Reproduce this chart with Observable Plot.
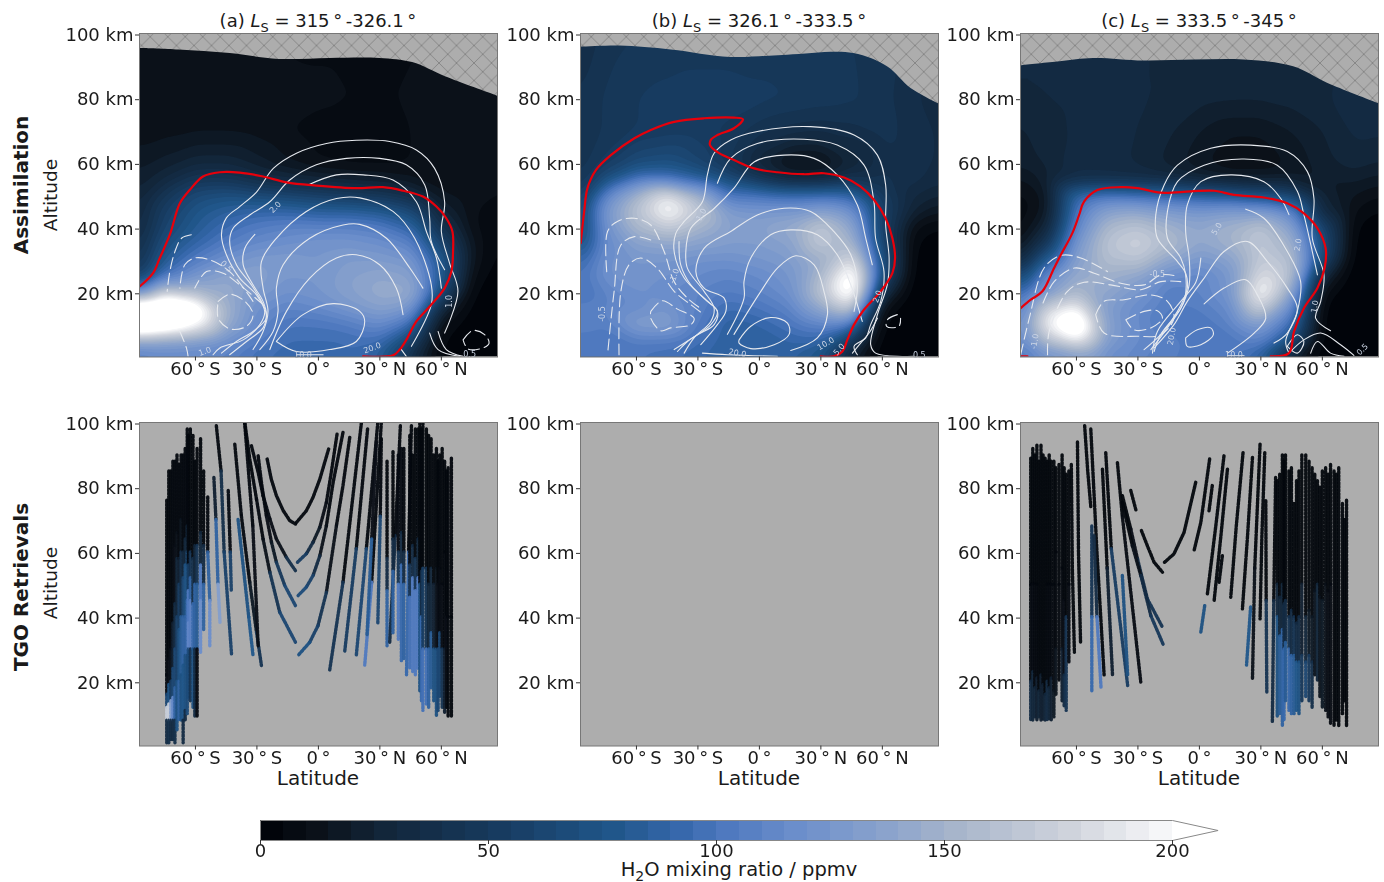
<!DOCTYPE html>
<html><head><meta charset="utf-8">
<script src="https://cdn.jsdelivr.net/npm/d3@7"></script>
<script src="https://cdn.jsdelivr.net/npm/@observablehq/plot@0.6"></script>
<style>
html,body{margin:0;padding:0;background:#fff;width:1384px;height:882px;overflow:hidden;font-family:"DejaVu Sans",sans-serif;color:#1a1a1a}
#stage{position:relative;width:1384px;height:882px}
#stage>div.p{position:absolute;filter:blur(0.35px)}
.t{position:absolute;white-space:nowrap;transform:translate(-50%,-50%);line-height:1}
.r{position:absolute;white-space:nowrap;transform:translate(-50%,-50%) rotate(-90deg);line-height:1}
sub{font-size:72%;line-height:0}
</style></head><body>
<svg width="0" height="0" style="position:absolute"><defs>
<pattern id="hatch" patternUnits="userSpaceOnUse" width="17.5" height="17.5">
<rect width="17.5" height="17.5" fill="#adadad"/>
<path d="M0,0L17.5,17.5M0,17.5L17.5,0" stroke="#828282" stroke-width="0.9"/>
</pattern></defs></svg>
<div id="stage"></div>
<script>
const colorStops=[0,10,25,50,75,90,100,115,135,150,175,200];
const colorHex=["#01040a","#0b1119","#12263a","#173b60","#20568a","#3768ac","#4f79bf","#6b8ecb","#8ba3cc","#a7b5cb","#cfd3dc","#ffffff"];
const levels=d3.range(0,205,5);
const latTicks=[-60,-30,0,30,60];
const altTicks=[20,40,60,80,100];
const latGrid=[-87.5,-75,-60,-45,-30,-15,0,15,30,45,60,75,87.5];
const altGrid=[100,80,70,60,55,50,45,40,35,30,25,20,15,10,5,0];
const h2oA=[
[10,10,10,10,10,9,9,9,9,10,10,10,10],
[12,12,12,12,12,12,11,10,10,10,12,12,12],
[12,13,14,14,13,10,8,8,8,10,12,12,12],
[18,22,28,28,22,15,10,8,8,10,12,12,12],
[22,30,45,45,35,30,25,22,20,15,12,12,10],
[25,45,65,70,65,60,55,50,45,35,15,12,10],
[28,55,75,85,90,90,85,85,80,65,25,10,8],
[30,60,80,95,105,110,110,110,105,90,40,10,5],
[35,70,90,105,115,120,125,125,120,110,60,15,3],
[40,80,105,120,130,130,125,130,130,125,80,15,3],
[50,100,125,140,135,125,125,135,140,135,80,10,2],
[110,175,155,145,130,120,125,135,145,145,70,5,2],
[250,260,230,150,120,110,115,125,135,125,30,3,2],
[260,240,205,145,115,100,100,105,115,95,10,2,1],
[140,135,130,120,105,95,95,95,95,60,5,1,1],
[100,110,110,105,95,90,90,95,80,35,3,1,1]];
const h2oB=[
[35,42,45,45,45,45,45,45,45,45,42,38,32],
[40,46,50,52,54,54,52,50,48,46,42,36,32],
[40,46,50,52,52,48,42,38,36,38,42,38,34],
[42,52,66,70,60,45,25,10,10,25,38,38,34],
[44,70,100,100,85,65,45,28,28,40,42,38,32],
[50,110,150,190,150,100,100,95,95,90,50,30,25],
[60,125,165,205,170,130,125,125,135,120,55,25,15],
[60,120,155,170,150,135,135,145,170,140,55,10,4],
[70,115,135,140,135,130,130,135,170,155,60,5,2],
[90,120,125,125,120,120,125,130,145,185,70,3,1],
[100,120,125,120,115,110,115,125,155,220,70,2,1],
[95,110,120,115,110,105,110,120,165,220,40,1,1],
[110,110,115,125,110,95,100,110,140,170,10,1,1],
[110,105,135,135,105,85,90,100,110,100,4,1,1],
[100,100,105,105,95,85,85,90,90,50,2,1,1],
[105,105,100,95,90,85,85,85,70,20,1,1,1]];
const h2oC=[
[30,30,30,30,30,30,30,30,30,30,30,30,30],
[30,30,31,31,30,30,27,26,26,27,29,33,31],
[24,28,31,32,30,26,20,16,16,20,25,31,31],
[22,26,34,32,29,23,16,10,10,16,23,28,25],
[14,23,35,36,35,32,25,20,20,20,20,22,18],
[8,15,90,100,95,90,85,80,70,60,25,15,10],
[6,15,100,135,140,130,125,130,130,110,30,10,4],
[6,25,110,155,165,150,140,150,165,135,60,5,2],
[10,45,125,165,178,160,140,150,170,150,70,3,1],
[25,80,135,160,165,140,125,135,170,160,65,2,1],
[60,115,145,150,140,115,110,125,185,160,30,1,1],
[90,125,155,140,125,105,110,125,205,140,10,1,1],
[100,175,200,130,115,105,105,115,175,115,3,1,1],
[115,195,240,135,115,100,100,110,130,95,2,1,1],
[115,160,195,130,115,110,100,100,110,70,2,1,1],
[100,115,120,115,110,105,100,100,80,20,2,1,1]];
const topA=[[-88,95.4],[-68,94.9],[-43,93.8],[-19,92],[5.5,92.3],[30,92.3],[46,91],[62,86.6],[88,80.5]];
const topB=[[-88,95.7],[-68,96.1],[-43,94.9],[-14,92.6],[13.7,93.3],[46,93.8],[62.5,89.7],[74,83],[88,78.1]];
const topC=[[-88,90],[-68,91.3],[-51.7,92.3],[-27,91.5],[-2.6,91.8],[21.8,91.8],[46,89.7],[62.5,84.6],[88,78.2]];
const redA=[[[-87.2,21.8],[-80.7,25.9],[-77.4,30.6],[-72.5,37.8],[-67.6,47.5],[-62.8,51.6],[-56.3,55.8],[-48.1,57.1],[-38.4,57],[-27,55.8],[-15.6,54],[-1,53],[18.5,52.2],[31.5,52.5],[41.3,51.4],[51,49.6],[57.6,46.5],[62.4,42.9],[65.4,38.8],[65.7,32.6],[64.9,26.4],[61.6,21.3],[54.3,15.6],[47.8,11],[42.9,5.3],[39.7,2.3],[36.4,.5],[21.8,.2]]];
const redB=[[[-87.2,35.2],[-85.5,45],[-83.9,52.2],[-79.8,57.8],[-72.5,62.4],[-61,67.6],[-53,70.2],[-41.6,72.7],[-27,73.8],[-12.4,74],[-8,73.5],[-12.4,70.7],[-20.5,68.6],[-23.7,67.1],[-24.1,65.5],[-19.7,63],[-12.4,60.9],[-2.6,58.3],[8.8,57.1],[21.8,56.5],[31.5,56.8],[41.3,55.5],[49.4,52.7],[55.9,48.6],[61.6,42.9],[64.9,36.7],[66.2,30.6],[64.9,25.9],[59.2,20.3],[51,14.6],[46.2,10],[42.9,5.3],[40.5,1.7],[36.4,.2],[29.9,.2]]];
const redC=[[[-87.2,15.1],[-82.3,17.7],[-76.6,20.3],[-70.9,27.5],[-67.6,31.6],[-62,38.3],[-58.7,43.9],[-56.3,48],[-49.8,51.6],[-38.4,52.5],[-30.2,52.2],[-18.9,50.8],[-4.2,51.2],[7.2,51.4],[16.9,50.1],[31.5,49.3],[42.9,47.5],[51,44.4],[57.6,39.8],[61.6,33.6],[61.1,27.5],[57.6,21.3],[51,15.1],[46.2,7.9],[43.7,1.2],[34.8,.2]],[[-87.2,.2],[-83.9,.2]]];
const whiteA=[
[[61.6,7.4],[68.1,20.3],[64,29],[60,38.8],[61.6,48],[56.7,58.3],[47.8,64],[34.8,66.6],[18.5,67],[3.9,66],[-10.7,63],[-22,58.3],[-30.2,51],[-38.4,46.5],[-44.9,43],[-47.3,37.8],[-44.9,31.6],[-38.4,24.4],[-30.2,19.2],[-26.2,14],[-28.6,10],[-36.7,5.3],[-48.1,2.8],[-51.4,.7]],
[[61.6,27],[55.1,35.7],[54.3,42.9],[51.9,53.2],[42.9,59.4],[29.9,61.4],[13.7,61.4],[-1,59.4],[-14,54.7],[-23.7,48],[-33.5,43.9],[-41.6,39.8],[-43.3,35.7],[-40,28.5],[-32.7,22.3],[-27,16.2],[-25.4,12],[-31.9,7.9],[-40,4.8],[-47.3,1.2]],
[[-5,53.2],[8.8,56.3],[21.8,56.3],[36.4,54.7],[47.8,48],[52.7,38.8],[57.6,30.6],[60,21.3]],
[[-31,37.9],[-35.9,33.6],[-36.7,28.5],[-31.9,22.3],[-27,17.2],[-25.4,13.1],[-27,9],[-35.1,4.8],[-43.3,.7]],
[[45.4,3.3],[55.1,16.2],[55.1,22.3],[47,36.7],[36.4,45],[20.2,49.2],[8.8,49],[-5.9,45],[-20.5,36.7],[-27.8,29.5],[-27,21.3],[-24.6,14.1],[-27,7.9],[-31.9,2.3]],
[[51,21.3],[44.6,27.5],[33.2,36.7],[20.2,41],[12,40.8],[-4.2,36.7],[-17.2,28.5],[-20.5,21.3],[-19.7,14.1],[-22.1,7.9],[-28.6,2.3]],
[[41.3,13.1],[38,21.3],[29.9,28.5],[18.5,31.6],[8.8,30.6],[-4.2,24.4],[-15.6,14.1],[-23.7,2.3]],
[[-20.5,4.8],[-7.5,13.1],[7.2,16.5],[20.2,14.1],[22.6,11],[18.5,4.8],[5.5,2.3],[-10.7,1.7],[-20.5,4.8]],
[[70.6,.2],[62.4,2.3],[58.4,7.9]],
[[40.5,2.3],[42.9,.2]],
[[54.3,7.4],[58.4,2.3],[68.9,.2]],
[[-10.7,.7],[2.3,.7]]];
const dashA=[
[[-62,37.8],[-66.8,36.7],[-70,32.6],[-72.5,26.4],[-73.8,20.3]],
[[-67.6,7.9],[-64.4,2.8],[-63.6,.2]],
[[-31.9,17.2],[-43.3,26.4],[-53,30],[-60.3,30.6],[-65.2,28.5],[-67.6,21.3]],
[[-27,16.2],[-38.4,22.3],[-46.5,25.9],[-54.6,26.4],[-60.3,21.3]],
[[-48.9,17.2],[-43.3,19.4],[-35.9,17.2],[-31.9,13.1],[-35.1,9.5],[-43.3,8.7],[-48.9,12],[-48.9,17.2]],
[[70.6,5.3],[75.4,8.2],[81.1,6.9],[83.3,4.3],[80.3,2.8],[73,2.5],[70.6,5.3]]];
const labelA=[[-21,46.3,"2.0",-45],[-44.9,28,"0.5",45],[64,17.2,"1.0",-90],[26.3,2.8,"20.0",-20],[-7.5,.6,"10.0",0],[-55.4,1.7,"1.0",-20],[73.8,.7,"0.5",0]];
const whiteB=[
[[-41.6,2.3],[-30.2,6.9],[-22.1,10],[-20.5,14.1],[-27,18.2],[-36.7,24.4],[-41.6,32.6],[-40.8,38.2],[-36.7,41.9],[-27.8,48],[-25.4,56.3],[-22.1,63],[-14,67.1],[-1,69.7],[25,71.2],[46.2,68.6],[57.6,62.4],[61.6,53.2],[61.6,40.8],[63.3,30.6],[62.4,22.3],[57.6,13.1],[54.3,3.8],[56.7,1.2],[75.4,.2]],
[[-20.5,53.7],[-14,61.4],[-1,66],[21.8,67.3],[38,65.5],[51,59.4],[55.9,48],[56.7,36.7],[60.8,26.4],[59.2,17.2],[54.3,10],[51.9,5.9],[46.2,3.3],[47.8,.7]],
[[-39.2,35.7],[-38.4,28.5],[-33.5,22.3],[-25.4,17.2],[-20.5,14.1],[-23.7,10],[-35.1,4.8],[-40,1.7]],
[[-36.7,1.2],[-31.9,5.9],[-23.7,11],[-22.1,15.1],[-27,20.3],[-35.1,27.4],[-35.9,32.6],[-33.5,39.8],[-22.1,45.9],[-12.4,52.2],[-2.6,60.3],[12,62.4],[26.7,61.4],[38,56.3],[47.8,47],[51.9,36.7],[55.1,28.5]],
[[-28.6,3.8],[-20.5,10],[-16.4,14.1],[-17.2,18.2],[-27,21.3],[-31,26.4],[-27,33.6],[-14,38.8],[-1,43.9],[12,46],[25,45],[36.3,38.8],[44.6,31.6],[47.8,22.3],[46.2,14.1]],
[[-15.6,7],[-7.5,18.2],[-7.5,23.4],[-4.2,30.6],[5.5,37.8],[15.3,39.3],[28.3,37.8],[38,31.6],[44.6,22.3],[50.2,11]],
[[-12.4,7],[.7,20.3],[8.8,27.5],[17.7,31.3],[26.7,28.5],[31.5,20.3],[33.2,13.1],[28.3,5.9],[15.3,2]],
[[-9.9,5.3],[-4.2,9.5],[5.5,12.2],[13.7,10.5],[14.5,7],[7.2,3.8],[-4.2,2.6],[-9.9,4.3],[-9.9,5.3]],
[[-27.8,1.2],[-15.6,.7],[8.8,.2]],
[[45.4,1.2],[49.4,4.3],[53.5,7.4],[57.6,12]]];
const dashB=[
[[-74.5,26.4],[-74.1,38.8],[-69.3,41.9],[-61,42.9],[-53,40.8],[-46.5,32.6],[-41.6,23.3],[-35.1,18.2],[-27.8,14.6]],
[[-53,36.2],[-61,37.2],[-67.6,34.6],[-70.9,20.3],[-74.1,.7]],
[[-68.5,.7],[-67.6,20.3],[-63.6,28.5],[-57.9,30.6],[-49.8,27.4],[-41.6,20.3],[-33.5,16.2],[-27,13.1]],
[[-53,14.1],[-47.3,17.4],[-40,14.8],[-31.9,12],[-33.5,10],[-43.3,9],[-48.1,8.1],[-53,12],[-53,14.1]],
[[67.3,13.1],[62.4,11.5],[62.1,9.5],[68.1,9.5],[68.9,12]]];
const labelB=[[-28.3,44,"1.0",-60],[-76.6,13.3,"-0.5",-90],[-41.6,25,"-1.0",-70],[32.4,4.1,"10.0",-30],[-10.7,1.2,"20.0",10],[38.9,2.3,"5.0",-50],[57.6,18.7,"2.0",-70],[78,.6,"0.5",0]];
const whiteC=[
[[-27,2.3],[-18.9,6.9],[-10.7,14.1],[-5.9,21.3],[-6.7,25.9],[-10.7,29.5],[-20.5,36.7],[-21.3,43.9],[-17.2,53.2],[-10.7,59.3],[5.5,64.5],[25,65.5],[42.9,63.5],[52.7,57.3],[55.9,49],[55.1,36.7],[60.8,25.4],[59.2,17.2],[56.7,12],[64,8.1]],
[[-23.7,2.3],[-15.6,9],[-7.5,17.2],[-6.7,25.4],[-9.1,30.6],[-15.6,36.7],[-15.6,45],[-10.7,54.2],[2.3,59.3],[21.8,61.2],[38,59.3],[47.8,51.2],[51,43.9],[55.1,32.6],[57.6,25.4]],
[[-22.1,1.7],[-18.9,6.9],[-9.1,15.1],[-5,22.3],[-5,30.6],[-6.7,38.7],[-5.9,47],[.7,54.2],[15.3,56.3],[31.5,54.2],[39.7,49],[43.7,44]],
[[22.6,45.7],[31.5,42.9],[42.9,32.6],[49.4,23.3],[47.8,14.1],[42.1,4.8],[43.7,1.2]],
[[.7,30.6],[-1.8,23],[-9.1,17.2],[-20.5,7.9],[-22.9,1.2]],
[[-22.1,2.8],[-12.4,10],[-5.9,17.2],[2.3,24.4],[12,32.6],[23.4,35.7],[33.2,29.5],[42.9,21.3],[47.8,15.1],[42.9,7.4],[36.4,4.3]],
[[2.3,16.4],[12,21.3],[22.6,23.9],[28.3,19.2],[32.4,12],[26.7,7.4],[13.7,1.2]],
[[-6.7,5.9],[-1,8.4],[5.5,9],[6.8,6.9],[.7,3.8],[-5.9,3.3],[-6.7,5.9]],
[[42.9,3.3],[47.8,6.9],[51,4.8],[47.8,1.2],[42.9,3.3]],
[[43.7,1.2],[51,5.3],[59.2,7.4],[68.9,3.8],[75.4,.5]],
[[54.3,1.2],[57.6,4.8],[64,1.2],[70.6,.2]],
[[13.7,.4],[21.8,.4]]];
const dashC=[
[[-87.2,.7],[-83,12],[-75.8,27.5],[-67.6,31.4],[-57.9,30.6],[-44.9,26.4]],
[[-76.3,16.7],[-70.9,23.3],[-61,27.5],[-51.4,25.9],[-38.4,22.8],[-27,22.3],[-18.9,25.4],[-12.4,25.2]],
[[-74.1,.7],[-73.3,7.9],[-64.4,20.3],[-56.3,23.1],[-43.3,22.3],[-28.6,20.8],[-18.9,23.3],[-9.1,23.3]],
[[-50.6,13.1],[-46.5,17.2],[-36.7,17.7],[-23.7,19.2],[-15.6,17.2],[-12.4,12],[-18.9,6.9],[-30.2,6.4],[-46.5,7.4],[-50.6,13.1]],
[[-35.9,11.5],[-27,14.1],[-20.5,14.3],[-18,12],[-23.7,9],[-31.9,8.4],[-35.9,11.5]]];
const labelC=[[8.5,39.6,"5.0",-60],[48.1,34.7,"2.0",-80],[-20.5,25.6,"-0.5",0],[56.3,15.6,"1.0",-80],[79.5,2.3,"0.5",-45],[-80.3,4.8,"-1.0",-80],[-13.5,6.4,"20.0",-80],[16.9,.6,"10.0",0]];
// retrieval tracks: [latitudes],[altitudes],[H2O]; a segment takes the value of its upper end
const tracksA=[
[[-74],[76,22,16,12,8,1],[2,5,60,170,30,30]],
[[-73],[85,27,19,13,8,1],[2,8,70,170,35,35]],
[[-72],[85,30,20,14,8,2],[2,10,50,130,30,30]],
[[-71],[88,38,24,15,8,2],[3,20,60,110,30,30]],
[[-70],[88,62,44,30,18,8,1],[3,8,30,60,85,35,35]],
[[-69],[90,66,58,40,20,5],[3,10,25,55,70,40]],
[[-68],[87,58,50,36,20,8],[3,20,50,70,85,45]],
[[-67],[90,70,60,40,22,8],[3,12,35,80,70,30]],
[[-66],[90,60,52,40,25,8,1],[3,25,60,85,75,30,30]],
[[-65],[92,64,56,40,28,11,8],[3,25,70,85,70,30,10]],
[[-64],[98,68,60,45,28,10],[3,25,70,90,65,5]],
[[-63.5],[96,56,48,38,30,15],[3,50,100,110,65,20]],
[[-62.5],[98,60,52,45,30,14],[2,40,85,105,40,5]],
[[-61.2],[96,58,44,30,12],[2,35,90,70,5]],
[[-60.3],[88,62,50,30,9],[2,25,85,30,2]],
[[-59.2],[92,62,50,30,9],[2,40,80,5,2]],
[[-57.5],[95,66,56,45,29],[2,25,100,115,5]],
[[-56],[85,62,50,36],[2,30,85,85]],
[[-54,-54,-53,-53],[77,60,45,31],[3,85,115,115]],
[[-51,-50,-49,-48],[83,70,50,38],[20,85,130,85]],
[[-49.8,-47.5,-46,-42.4],[99,85,60,28.5],[3,35,55,70]],
[[-44,-43,-42.5],[79,60,48],[5,55,165]],
[[-40.8,-37.6,-33.5,-30.2,-27.8],[93.3,71.2,50.6,35.2,24.9],[3,4,15,40,60]],
[[-39.2,-34,-31.9],[70,40,28],[70,75,150]],
[[-36,-32,-29.4],[100,68,31],[3,8,90]],
[[-25,-23,-20.5,-17.2,-14,-11.2],[88.7,82.5,77.4,72.8,69.7,68.6],[3,3,3,3,3,3]],
[[-10.7,-5.9,-2.6,.7,3.1,5],[69.1,72.7,76.9,82.5,87.7,91.8],[3,3,3,3,3,3]],
[[-32.7,-29.4,-27,-23.7,-20.5,-15.6,-11.2],[92.8,84.6,77.4,70.2,64,58.3,54.2],[3,3,5,8,10,35,60]],
[[-10.2,-5.9,-2.6,.7,3.9,6.3,9.1],[56.8,59.4,63,67.6,75.3,84.6,96.4],[60,50,30,15,8,3,3]],
[[-29.4,-27.8,-25.4,-22.9,-20.5,-16.4,-11.2],[89.7,81.5,71.2,63,56.8,49.6,43.4],[3,3,8,15,45,60,70]],
[[-9.9,-5.9,-2.6,.7,3.9,7.2,12],[46.5,49.1,52.7,58.8,68.1,81.5,96.9],[75,65,55,30,10,3,3]],
[[-35.9,-33.5,-30.2,-27,-23.7,-18.9,-11.2],[100,88.7,76.3,64,53.7,41.4,32.1],[2,2,4,10,40,60,70]],
[[-9.9,-4.2,-.2,3.9,8.8,12,15.3],[28,32.1,37.2,47.5,68.1,80.5,95.4],[90,70,55,40,10,3,3]],
[[5.5,12,21],[23.4,50.6,100],[10,40,3]],
[[12.8,18.5,24],[29,61,98],[130,50,3]],
[[18.5,23.4,29],[28,61,100],[140,60,3]],
[[22.6,26,30.7],[25,50.6,100],[5,100,3]],
[[23.7,26,28.3],[34,64,94],[50,80,8]],
[[29,30.2,30.7],[38,71,95],[130,60,3]],
[[33.5],[88,58,48,31],[2,30,85,85]],
[[34.8,37.5,40],[32,65,99],[10,30,3]],
[[36.4],[91,64,54,35],[2,30,85,95]],
[[39],[90,60,50,33],[5,40,100,120]],
[[40.5],[92,66,56,26],[5,30,90,50]],
[[41.7],[92,60,50,27],[3,30,85,30]],
[[43,44,45.4],[22,60,99],[10,90,3]],
[[44.6],[96,56,46,24],[3,40,95,20]],
[[46],[90,62,52,23],[2,30,100,75]],
[[47.3],[98,58,48,22],[2,40,100,40]],
[[48.6],[98,64,52,24],[3,25,100,110]],
[[49.5],[100,50,17],[2,70,3]],
[[50.3],[98,54,40,14],[2,30,90,5]],
[[51],[100,55,30,11],[2,50,95,5]],
[[52.7],[98,55,30,13],[2,40,95,5]],
[[53.8],[96,50,30,12],[2,25,85,5]],
[[55],[95,55,35,18],[2,25,80,5]],
[[56.3],[90,50,30,14],[2,20,70,5]],
[[57.6],[92,55,30,9.5],[2,12,70,10]],
[[58.4],[88,50,30,11],[2,8,60,5]],
[[59.2],[90,55,35,15],[2,5,60,10]],
[[60.4],[92,50,30,12],[2,5,40,5]],
[[61.6],[88,60,30,10],[2,3,20,5]],
[[62.5],[85,40,12],[2,8,3]],
[[63.3],[86,40,9],[2,3,2]],
[[64.9],[89,40,9],[1,2,1]]];
const tracksC=[
[[-82.3],[89,50,20,8],[2,3,30,40]],
[[-81.3],[92,50,23,8],[2,5,25,20]],
[[-80.3],[90,50,18,9],[2,3,25,35]],
[[-79.3],[93,50,21,8],[2,3,20,30]],
[[-78.3],[88,50,17,9],[2,2,25,25]],
[[-77.3],[93,50,22,8],[2,2,20,30]],
[[-76.3],[90,50,19,8],[2,2,20,30]],
[[-75.3],[89,50,16,8],[2,2,25,25]],
[[-74.3],[88,50,20,8],[2,3,30,30]],
[[-73.3],[90,50,18,8],[2,3,25,20]],
[[-72.3],[88,50,21,8],[2,3,20,20]],
[[-71],[88,50,17,9],[2,4,15,5]],
[[-70],[86,60,30,16],[2,3,12,20]],
[[-68.5],[87,50,20],[2,3,30]],
[[-67],[90,55,30,14],[2,4,20,30]],
[[-66],[86,45,22,12],[2,8,30,40]],
[[-65],[84,40,11],[2,40,60]],
[[-63.7],[85,50,26],[2,5,3]],
[[-62.5,-62,-61],[87,55,29],[2,2,2]],
[[-59.5,-59,-58],[94,60,32],[2,2,2]],
[[-56,-54.5,-53],[99,85,74],[2,2,2]],
[[-53,-50,-46.5],[98,60,22],[2,2,5]],
[[-52.5],[68,40,17],[40,90,60]],
[[-51.4,-50,-48],[65,40,18],[30,100,55]],
[[-47.3,-45,-42.4],[85.6,55,22],[2,20,10]],
[[-45.7,-43,-35],[90.7,61,18.7],[2,50,80]],
[[-40,-37.6,-28.6],[87.6,71,19.8],[2,5,50]],
[[-33.5,-31],[79,73],[2,2]],
[[-28.3,-25.4,-22.1,-18],[66.6,61.9,56.8,53.7],[2,2,2,2]],
[[-37.6,-33.5,-30.2,-25.4,-18],[77.4,67.1,57.8,45.5,36.7],[2,8,30,40,5]],
[[-37.6,-32.7,-28.6,-23.7,-17.6],[75.3,61.9,52.7,40.3,31.3],[2,10,30,45,40]],
[[-37.6,-35],[52.7,21.8],[70,100]],
[[-17,-12.4,-7.5,-1.8],[56.8,59.4,66,81.5],[2,2,2,2]],
[[-2.6,.7,5],[60.4,69.1,88.7],[2,2,2]],
[[.7,2.6],[35.2,43.4],[70,70]],
[[4.7,6.3],[72.7,80.5],[2,2]],
[[3.9,8,12],[47,68,89.7],[2,2,2]],
[[7.2,10.5,13.7],[45,65,85.6],[2,2,2]],
[[9.6,11.2],[50.6,58.8],[2,2]],
[[15.3,18,21.3],[46,68,90.7],[60,2,2]],
[[21,23.5,25.9],[42.4,65,89.2],[30,2,2]],
[[23,25],[25,43],[60,75]],
[[25.9,27,29.6],[20.8,55,93.3],[60,10,2]],
[[29.6,30.5,31.9],[39.3,65,90.7],[5,2,2]],
[[32.9,32.6,32.4],[16.7,45,75.8],[110,40,2]],
[[35.6,36.3,37.2],[7.4,45,83],[80,30,2]],
[[38],[82,50,40,9],[2,25,70,50]],
[[39.2],[84,46,34,10],[2,25,80,40]],
[[40.5],[90,50,36,6],[2,25,85,20]],
[[41.3],[88,44,30,8],[2,30,90,40]],
[[42],[90,45,32,14],[2,30,80,130]],
[[43.7],[85,40,30,11],[2,40,90,110]],
[[44.9],[86,42,28,10],[2,30,85,90]],
[[46.2],[75,40,28,10],[2,40,80,120]],
[[47.4],[82,38,26,11],[2,30,75,60]],
[[48.6],[85,40,26,10],[2,30,70,30]],
[[50],[90,50,28,14],[2,20,45,5]],
[[51.9],[90,40,26,15],[2,25,60,5]],
[[53.5],[88,42,28,14],[2,15,45,3]],
[[55],[86,40,26,12],[2,15,35,3]],
[[56.3],[84,48,22],[2,12,3]],
[[57.6],[82,50,20],[2,25,3]],
[[58.8],[80,46,15],[2,12,2]],
[[60],[85,45,12],[2,15,2]],
[[61.6],[86,50,11],[2,10,2]],
[[62.8],[84,48,9],[2,6,2]],
[[64],[87,50,7],[2,5,2]],
[[65.7],[85,50,6],[2,2,2]],
[[66.8],[84,50,8],[2,2,2]],
[[68],[86,50,6],[2,2,2]],
[[69.8],[75,50,10],[2,2,2]],
[[70.8],[70,40,14],[2,2,2]],
[[71.8],[76,40,6],[2,2,2]]];
const titles=[["(a)","315","326.1"],["(b)","326.1","333.5"],["(c)","333.5","345"]];
const panelLeft=[139,580,1020];
const colorScale={type:"linear",domain:colorStops,range:colorHex,clamp:true};
const stage=document.getElementById("stage");
const latFmt=d=>d===0?"0\u2009°":Math.abs(d)+"\u2009°\u2009"+(d<0?"S":"N");
function axes(){return [
 Plot.axisX(latTicks,{tickFormat:latFmt,fontSize:18,tickSize:4,tickPadding:1,label:null,stroke:"#333",fill:"#1a1a1a"}),
 Plot.axisY(altTicks,{tickFormat:d=>d+" km",fontSize:18,tickSize:4,tickPadding:2,label:null,stroke:"#333",fill:"#1a1a1a",dy:1.5})];}
function panel(left,top,marks){
 const h=5+323.5+40;
 const node=Plot.plot({width:85+358+5,height:h,marginLeft:85,marginRight:5,marginTop:5,marginBottom:40,
  x:{domain:[-87.3,87.4]},y:{domain:[0,100]},color:colorScale,
  style:{background:"transparent",fontFamily:"DejaVu Sans",overflow:"visible"},marks});
 const d=document.createElement("div");d.className="p";d.style.left=(left-85)+"px";d.style.top=(top-5)+"px";d.appendChild(node);stage.appendChild(d);
}
function lineMarks(set,opt){return set.map(pts=>Plot.line(pts,{x:d=>d[0],y:d=>d[1],curve:"catmull-rom",clip:true,...opt}));}
function assim(left,grid,top,white,dash,red,labels){
 const rows=altGrid.flatMap((a,i)=>latGrid.map((l,j)=>({lat:l,alt:a,v:grid[i][j]})));
 panel(left,33,[
  Plot.contour(rows,{x:"lat",y:"alt",fill:"v",interpolate:"barycentric",pixelSize:2,blur:3,thresholds:levels,stroke:"none",clip:true}),
  Plot.areaY(top,{x:d=>d[0],y1:d=>d[1],y2:()=>100,fill:"url(#hatch)",curve:"catmull-rom",clip:true}),
  ...lineMarks(white,{stroke:"#e6e9ee",strokeWidth:1.1}),
  ...lineMarks(dash,{stroke:"#e6e9ee",strokeWidth:1.1,strokeDasharray:"11 5"}),
  ...lineMarks(red,{stroke:"#e8000b",strokeWidth:2.2}),
  Plot.text(labels,{x:d=>d[0],y:d=>d[1],text:d=>d[2],rotate:d=>d[3],fontSize:8,fill:"#cdd6e6"}),
  Plot.frame({stroke:"#777",strokeWidth:1}),
  ...axes()]);
}
function retrieval(left,tracks){
 const rows=tracks.flatMap((t,i)=>d3.sort(t[1].map((a,j)=>({id:i,lat:t[0][j]??t[0][0],alt:a,v:t[2][j]})),d=>-d.alt));
 panel(left,422,[
  Plot.frame({fill:"#adadad",stroke:"none"}),
  Plot.line(rows,{x:"lat",y:"alt",z:"id",stroke:"v",strokeWidth:3.4,strokeDasharray:"2.2 1.4",strokeOpacity:0.95,clip:true}),
  Plot.frame({stroke:"#777",strokeWidth:1}),
  ...axes()]);
}
assim(139,h2oA,topA,whiteA,dashA,redA,labelA);
assim(580,h2oB,topB,whiteB,dashB,redB,labelB);
assim(1020,h2oC,topC,whiteC,dashC,redC,labelC);
retrieval(139,tracksA);
retrieval(580,[]);
retrieval(1020,tracksC);
// colour bar
const barNode=Plot.plot({width:1000,height:55,marginLeft:20,marginRight:22.4,marginTop:5,marginBottom:30,
 x:{domain:[0,210]},y:{domain:[0,1],axis:null},color:colorScale,
 style:{background:"transparent",fontFamily:"DejaVu Sans",overflow:"visible"},
 marks:[
  Plot.rect(levels.slice(0,40),{x1:d=>d,x2:d=>d+5,y1:()=>0,y2:()=>1,fill:d=>d,shapeRendering:"crispEdges"}),
  Plot.line([[0,0],[200,0],[210,.5],[200,1],[0,1],[0,0]],{x:d=>d[0],y:d=>d[1],stroke:"#888",strokeWidth:1}),
  Plot.axisX([0,50,100,150,200],{fontSize:18,tickSize:4,tickPadding:0,label:null,stroke:"#333",fill:"#1a1a1a"})
 ]});
const bd=document.createElement("div");bd.className="p";bd.style.left="240px";bd.style.top="815px";bd.appendChild(barNode);stage.appendChild(bd);
// text
function addText(cls,x,y,size,html,weight){const e=document.createElement("div");e.className=cls;e.style.left=x+"px";e.style.top=y+"px";e.style.fontSize=size+"px";if(weight)e.style.fontWeight=weight;e.innerHTML=html;stage.appendChild(e);}
titles.forEach((t,i)=>addText("t",panelLeft[i]+179,21,18,`${t[0]} <i>L</i><sub>S</sub> = ${t[1]}\u2009°\u2009-${t[2]}\u2009°`));
panelLeft.forEach(l=>addText("t",l+179,778,20,"Latitude"));
addText("r",21,185,20,"Assimilation",700);
addText("r",21,587,20,"TGO Retrievals",700);
addText("r",51,195,18.5,"Altitude");
addText("r",51,583,18.5,"Altitude");
addText("t",739,869.5,19.5,"H<sub>2</sub>O mixing ratio / ppmv");
</script></body></html>
